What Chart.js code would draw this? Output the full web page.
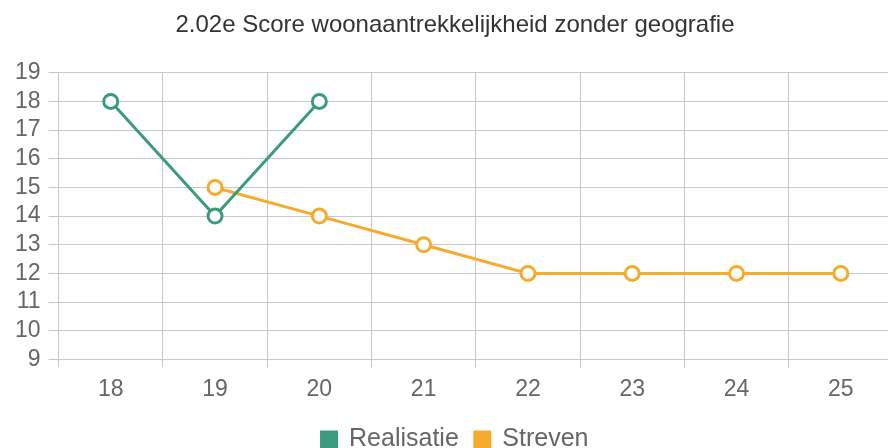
<!DOCTYPE html>
<html>
<head>
<meta charset="utf-8">
<script src="https://cdn.jsdelivr.net/npm/chart.js@4"></script>
<style>
  html, body { margin: 0; padding: 0; background: #fff; overflow: hidden; }
  #wrap { width: 903px; height: 448px; }
</style>
</head>
<body>
<div id="wrap"><canvas id="scoreChart"></canvas></div>
<script>
var jaren = ["18", "19", "20", "21", "22", "23", "24", "25"];
var realisatie = [18, 14, 18, null, null, null, null, null];
var streven = [null, 15, 14, 13, 12, 12, 12, 12];

var groen = '#3a9c7c';
var oranje = '#f6aa2e';
var lettertype = 'Liberation Sans, Arial';

window.onload = function() {
  var ctx = document.getElementById('scoreChart').getContext('2d');
  var chart = new Chart(ctx, {
      type: 'line',
      data: {
          labels: jaren,
          datasets: [{
              label: "Realisatie",
              data: realisatie,
              borderColor: groen,
              backgroundColor: groen,
              pointBackgroundColor: '#fff',
              pointBorderColor: groen,
              pointRadius: 7,
              pointBorderWidth: 3,
              borderWidth: 3,
              tension: 0
          }, {
              label: "Streven",
              data: streven,
              borderColor: oranje,
              backgroundColor: oranje,
              pointBackgroundColor: '#fff',
              pointBorderColor: oranje,
              pointRadius: 7,
              pointBorderWidth: 3,
              borderWidth: 3,
              tension: 0
          }]
      },
      options: {
        responsive: true,
        maintainAspectRatio: false,
        animation: false,
        // grafiek is breder dan het venster, rechts valt een stukje weg
        layout: { padding: { left: 7, right: 0, top: 0, bottom: -14 } },
        plugins: {
          title: {
            display: true,
            text: '2.02e Score woonaantrekkelijkheid zonder geografie',
            color: '#333',
            font: { family: lettertype, size: 24, weight: 'normal' },
            padding: { top: 11, bottom: 33 }
          },
          legend: {
            position: 'bottom',
            labels: {
              color: '#666',
              boxWidth: 15,
              boxHeight: 15,
              font: { family: lettertype, size: 25 },
              padding: 16
            }
          },
          tooltip: { enabled: false }
        },
        scales: {
          x: {
            offset: true,
            grid: { color: '#c8c8c8', offset: true, tickLength: 8 },
            border: { color: '#c8c8c8' },
            ticks: { color: '#666', font: { family: lettertype, size: 23 }, padding: 8 }
          },
          y: {
            min: 9,
            max: 19,
            grid: { color: '#c8c8c8', tickLength: 10 },
            border: { color: '#c8c8c8' },
            ticks: { stepSize: 1, autoSkip: false, color: '#666', font: { family: lettertype, size: 23 }, padding: 8 }
          }
        }
      }
  });
};
</script>
</body>
</html>
